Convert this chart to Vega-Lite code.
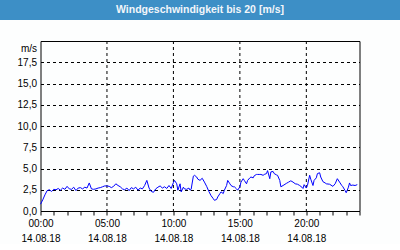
{
  "$schema": "https://vega.github.io/schema/vega-lite/v6.json",
  "background": "#fdfefe",
  "padding": 0,
  "bounds": "flush",
  "center": true,
  "spacing": 21,
  "config": {"font": "Liberation Sans", "view": {"stroke": null}},
  "vconcat": [
    {
      "width": 400,
      "height": 20,
      "data": {"values": [{"title": "Windgeschwindigkeit bis 20 [m/s]"}]},
      "layer": [
        {"mark": {"type": "rect", "color": "#3d8fc6"}, "encoding": {}},
        {"mark": {"type": "text", "font": "Liberation Sans", "fontWeight": "bold", "fontSize": 10.5, "color": "#f2f6fa"},
         "encoding": {"text": {"field": "title"}}}
      ]
    },
    {
      "width": 319,
      "height": 170,
      "view": {"stroke": "#000000"},
      "encoding": {
        "x": {
          "field": "t",
          "type": "temporal",
          "scale": {"domain": [{"year": 2018, "month": 8, "date": 14, "hours": 0}, {"year": 2018, "month": 8, "date": 15, "hours": 0}]},
          "axis": {
            "title": null,
            "domain": false,
            "values": [
              {"year": 2018, "month": 8, "date": 14, "hours": 0},
              {"year": 2018, "month": 8, "date": 14, "hours": 1},
              {"year": 2018, "month": 8, "date": 14, "hours": 2},
              {"year": 2018, "month": 8, "date": 14, "hours": 3},
              {"year": 2018, "month": 8, "date": 14, "hours": 4},
              {"year": 2018, "month": 8, "date": 14, "hours": 5},
              {"year": 2018, "month": 8, "date": 14, "hours": 6},
              {"year": 2018, "month": 8, "date": 14, "hours": 7},
              {"year": 2018, "month": 8, "date": 14, "hours": 8},
              {"year": 2018, "month": 8, "date": 14, "hours": 9},
              {"year": 2018, "month": 8, "date": 14, "hours": 10},
              {"year": 2018, "month": 8, "date": 14, "hours": 11},
              {"year": 2018, "month": 8, "date": 14, "hours": 12},
              {"year": 2018, "month": 8, "date": 14, "hours": 13},
              {"year": 2018, "month": 8, "date": 14, "hours": 14},
              {"year": 2018, "month": 8, "date": 14, "hours": 15},
              {"year": 2018, "month": 8, "date": 14, "hours": 16},
              {"year": 2018, "month": 8, "date": 14, "hours": 17},
              {"year": 2018, "month": 8, "date": 14, "hours": 18},
              {"year": 2018, "month": 8, "date": 14, "hours": 19},
              {"year": 2018, "month": 8, "date": 14, "hours": 20},
              {"year": 2018, "month": 8, "date": 14, "hours": 21},
              {"year": 2018, "month": 8, "date": 14, "hours": 22},
              {"year": 2018, "month": 8, "date": 14, "hours": 23},
              {"year": 2018, "month": 8, "date": 15, "hours": 0}
            ],
            "tickSize": 4,
            "tickColor": "#000000",
            "labelExpr": "[(hours(datum.value) % 5 == 0 && date(datum.value) == 14) ? timeFormat(datum.value, '%H:%M') : '', (hours(datum.value) % 5 == 0 && date(datum.value) == 14) ? timeFormat(datum.value, '%d.%m.%y') : '']",
            "labelFont": "Liberation Sans",
            "labelFontSize": 10,
            "labelColor": "#000000",
            "labelLineHeight": 15.5,
            "labelPadding": 3,
            "labelFlush": false,
            "labelOverlap": false,
            "grid": false
          }
        }
      },
      "layer": [
        {
          "data": {"values": [
            {"t": "2018-08-14T05:00"},
            {"t": "2018-08-14T10:00"},
            {"t": "2018-08-14T15:00"},
            {"t": "2018-08-14T20:00"}
          ]},
          "mark": {"type": "rule", "color": "#000000", "strokeWidth": 1, "strokeDash": [3, 3]}
        },
        {
          "data": {"values": [
            {"t": "2018-08-14T00:00", "v": 0.8},
            {"t": "2018-08-14T00:10", "v": 1.3},
            {"t": "2018-08-14T00:20", "v": 1.9},
            {"t": "2018-08-14T00:30", "v": 2.4},
            {"t": "2018-08-14T00:40", "v": 2.5},
            {"t": "2018-08-14T00:50", "v": 2.3},
            {"t": "2018-08-14T01:00", "v": 2.55},
            {"t": "2018-08-14T01:10", "v": 2.5},
            {"t": "2018-08-14T01:20", "v": 2.65},
            {"t": "2018-08-14T01:30", "v": 2.45},
            {"t": "2018-08-14T01:40", "v": 2.7},
            {"t": "2018-08-14T01:50", "v": 2.55},
            {"t": "2018-08-14T02:00", "v": 2.9},
            {"t": "2018-08-14T02:10", "v": 2.6},
            {"t": "2018-08-14T02:20", "v": 2.55},
            {"t": "2018-08-14T02:30", "v": 2.8},
            {"t": "2018-08-14T02:40", "v": 2.4},
            {"t": "2018-08-14T02:50", "v": 2.7},
            {"t": "2018-08-14T03:00", "v": 2.75},
            {"t": "2018-08-14T03:10", "v": 2.6},
            {"t": "2018-08-14T03:20", "v": 2.8},
            {"t": "2018-08-14T03:30", "v": 2.7},
            {"t": "2018-08-14T03:40", "v": 3.3},
            {"t": "2018-08-14T03:50", "v": 2.6},
            {"t": "2018-08-14T04:00", "v": 2.55},
            {"t": "2018-08-14T04:10", "v": 2.6},
            {"t": "2018-08-14T04:20", "v": 2.7},
            {"t": "2018-08-14T04:30", "v": 2.75},
            {"t": "2018-08-14T04:40", "v": 2.85},
            {"t": "2018-08-14T04:50", "v": 2.95},
            {"t": "2018-08-14T05:00", "v": 2.95},
            {"t": "2018-08-14T05:10", "v": 2.9},
            {"t": "2018-08-14T05:20", "v": 2.75},
            {"t": "2018-08-14T05:30", "v": 2.9},
            {"t": "2018-08-14T05:40", "v": 3.2},
            {"t": "2018-08-14T05:50", "v": 3.0},
            {"t": "2018-08-14T06:00", "v": 2.85},
            {"t": "2018-08-14T06:10", "v": 2.6},
            {"t": "2018-08-14T06:20", "v": 2.5},
            {"t": "2018-08-14T06:30", "v": 2.7},
            {"t": "2018-08-14T06:40", "v": 2.4},
            {"t": "2018-08-14T06:50", "v": 2.75},
            {"t": "2018-08-14T07:00", "v": 2.6},
            {"t": "2018-08-14T07:10", "v": 2.8},
            {"t": "2018-08-14T07:20", "v": 2.45},
            {"t": "2018-08-14T07:30", "v": 2.7},
            {"t": "2018-08-14T07:40", "v": 2.6},
            {"t": "2018-08-14T07:50", "v": 3.0},
            {"t": "2018-08-14T08:00", "v": 3.6},
            {"t": "2018-08-14T08:10", "v": 2.7},
            {"t": "2018-08-14T08:20", "v": 2.3},
            {"t": "2018-08-14T08:30", "v": 2.2},
            {"t": "2018-08-14T08:40", "v": 2.6},
            {"t": "2018-08-14T08:50", "v": 2.8},
            {"t": "2018-08-14T09:00", "v": 2.95},
            {"t": "2018-08-14T09:10", "v": 2.7},
            {"t": "2018-08-14T09:20", "v": 2.85},
            {"t": "2018-08-14T09:30", "v": 2.65},
            {"t": "2018-08-14T09:40", "v": 3.0},
            {"t": "2018-08-14T09:50", "v": 2.65},
            {"t": "2018-08-14T10:00", "v": 3.35},
            {"t": "2018-08-14T10:05", "v": 3.6},
            {"t": "2018-08-14T10:15", "v": 3.2},
            {"t": "2018-08-14T10:20", "v": 2.45},
            {"t": "2018-08-14T10:30", "v": 3.2},
            {"t": "2018-08-14T10:35", "v": 2.25},
            {"t": "2018-08-14T10:45", "v": 2.8},
            {"t": "2018-08-14T10:50", "v": 2.6},
            {"t": "2018-08-14T11:00", "v": 2.55},
            {"t": "2018-08-14T11:10", "v": 2.7},
            {"t": "2018-08-14T11:15", "v": 2.45},
            {"t": "2018-08-14T11:20", "v": 2.55},
            {"t": "2018-08-14T11:30", "v": 4.1},
            {"t": "2018-08-14T11:35", "v": 4.2},
            {"t": "2018-08-14T11:45", "v": 4.0},
            {"t": "2018-08-14T11:50", "v": 3.75},
            {"t": "2018-08-14T12:00", "v": 3.6},
            {"t": "2018-08-14T12:10", "v": 3.85},
            {"t": "2018-08-14T12:20", "v": 3.4},
            {"t": "2018-08-14T12:30", "v": 2.9},
            {"t": "2018-08-14T12:40", "v": 2.3},
            {"t": "2018-08-14T12:50", "v": 1.8},
            {"t": "2018-08-14T13:00", "v": 1.45},
            {"t": "2018-08-14T13:05", "v": 1.26},
            {"t": "2018-08-14T13:15", "v": 1.35},
            {"t": "2018-08-14T13:20", "v": 1.65},
            {"t": "2018-08-14T13:30", "v": 2.05},
            {"t": "2018-08-14T13:35", "v": 2.25},
            {"t": "2018-08-14T13:45", "v": 2.05},
            {"t": "2018-08-14T13:50", "v": 2.45},
            {"t": "2018-08-14T14:00", "v": 3.0},
            {"t": "2018-08-14T14:05", "v": 3.6},
            {"t": "2018-08-14T14:15", "v": 3.2},
            {"t": "2018-08-14T14:20", "v": 3.0},
            {"t": "2018-08-14T14:30", "v": 2.85},
            {"t": "2018-08-14T14:35", "v": 2.85},
            {"t": "2018-08-14T14:45", "v": 2.6},
            {"t": "2018-08-14T14:50", "v": 2.45},
            {"t": "2018-08-14T15:00", "v": 2.85},
            {"t": "2018-08-14T15:05", "v": 3.4},
            {"t": "2018-08-14T15:15", "v": 3.8},
            {"t": "2018-08-14T15:20", "v": 3.6},
            {"t": "2018-08-14T15:30", "v": 3.2},
            {"t": "2018-08-14T15:35", "v": 3.6},
            {"t": "2018-08-14T15:45", "v": 3.9},
            {"t": "2018-08-14T15:50", "v": 4.0},
            {"t": "2018-08-14T16:00", "v": 3.9},
            {"t": "2018-08-14T16:05", "v": 4.15},
            {"t": "2018-08-14T16:15", "v": 4.3},
            {"t": "2018-08-14T16:20", "v": 4.3},
            {"t": "2018-08-14T16:30", "v": 4.3},
            {"t": "2018-08-14T16:35", "v": 4.3},
            {"t": "2018-08-14T16:45", "v": 4.2},
            {"t": "2018-08-14T16:50", "v": 4.3},
            {"t": "2018-08-14T17:00", "v": 4.4},
            {"t": "2018-08-14T17:05", "v": 4.75},
            {"t": "2018-08-14T17:15", "v": 3.8},
            {"t": "2018-08-14T17:20", "v": 4.6},
            {"t": "2018-08-14T17:30", "v": 4.65},
            {"t": "2018-08-14T17:35", "v": 4.4},
            {"t": "2018-08-14T17:45", "v": 4.25},
            {"t": "2018-08-14T17:50", "v": 4.2},
            {"t": "2018-08-14T18:00", "v": 3.6},
            {"t": "2018-08-14T18:05", "v": 2.85},
            {"t": "2018-08-14T18:15", "v": 3.0},
            {"t": "2018-08-14T18:30", "v": 3.25},
            {"t": "2018-08-14T18:40", "v": 3.4},
            {"t": "2018-08-14T18:50", "v": 3.55},
            {"t": "2018-08-14T19:00", "v": 3.4},
            {"t": "2018-08-14T19:10", "v": 3.2},
            {"t": "2018-08-14T19:20", "v": 3.15},
            {"t": "2018-08-14T19:30", "v": 3.0},
            {"t": "2018-08-14T19:40", "v": 2.8},
            {"t": "2018-08-14T19:45", "v": 2.65},
            {"t": "2018-08-14T19:50", "v": 3.1},
            {"t": "2018-08-14T20:00", "v": 2.7},
            {"t": "2018-08-14T20:05", "v": 3.0},
            {"t": "2018-08-14T20:15", "v": 4.2},
            {"t": "2018-08-14T20:20", "v": 3.75},
            {"t": "2018-08-14T20:30", "v": 3.0},
            {"t": "2018-08-14T20:35", "v": 3.6},
            {"t": "2018-08-14T20:45", "v": 3.9},
            {"t": "2018-08-14T20:50", "v": 4.4},
            {"t": "2018-08-14T21:00", "v": 4.5},
            {"t": "2018-08-14T21:05", "v": 4.0},
            {"t": "2018-08-14T21:15", "v": 3.45},
            {"t": "2018-08-14T21:25", "v": 3.3},
            {"t": "2018-08-14T21:30", "v": 3.2},
            {"t": "2018-08-14T21:45", "v": 3.15},
            {"t": "2018-08-14T22:00", "v": 2.9},
            {"t": "2018-08-14T22:10", "v": 3.2},
            {"t": "2018-08-14T22:20", "v": 3.8},
            {"t": "2018-08-14T22:30", "v": 3.4},
            {"t": "2018-08-14T22:40", "v": 3.0},
            {"t": "2018-08-14T22:45", "v": 2.85},
            {"t": "2018-08-14T22:55", "v": 2.4},
            {"t": "2018-08-14T23:00", "v": 2.15},
            {"t": "2018-08-14T23:10", "v": 2.8},
            {"t": "2018-08-14T23:15", "v": 3.3},
            {"t": "2018-08-14T23:20", "v": 3.0},
            {"t": "2018-08-14T23:30", "v": 3.05},
            {"t": "2018-08-14T23:40", "v": 3.0},
            {"t": "2018-08-14T23:50", "v": 3.1}
          ]},
          "mark": {"type": "line", "color": "#0000ff", "strokeWidth": 1},
          "encoding": {
            "y": {
              "field": "v",
              "type": "quantitative",
              "scale": {"domain": [0, 20]},
              "axis": {
                "title": "m/s",
                "titleAngle": 0,
                "titleAlign": "right",
                "titleBaseline": "top",
                "titleX": -4,
                "titleY": 2,
                "titleFont": "Liberation Sans",
                "titleFontSize": 10,
                "titleFontWeight": "normal",
                "titleColor": "#000000",
                "domain": false,
                "ticks": false,
                "values": [0, 2.5, 5, 7.5, 10, 12.5, 15, 17.5],
                "labelExpr": "replace(format(datum.value, '.1f'), '.', ',')",
                "labelFont": "Liberation Sans",
                "labelFontSize": 10,
                "labelColor": "#000000",
                "labelPadding": 4,
                "grid": true,
                "gridColor": "#000000",
                "gridDash": [3, 3]
              }
            }
          }
        }
      ]
    }
  ]
}
